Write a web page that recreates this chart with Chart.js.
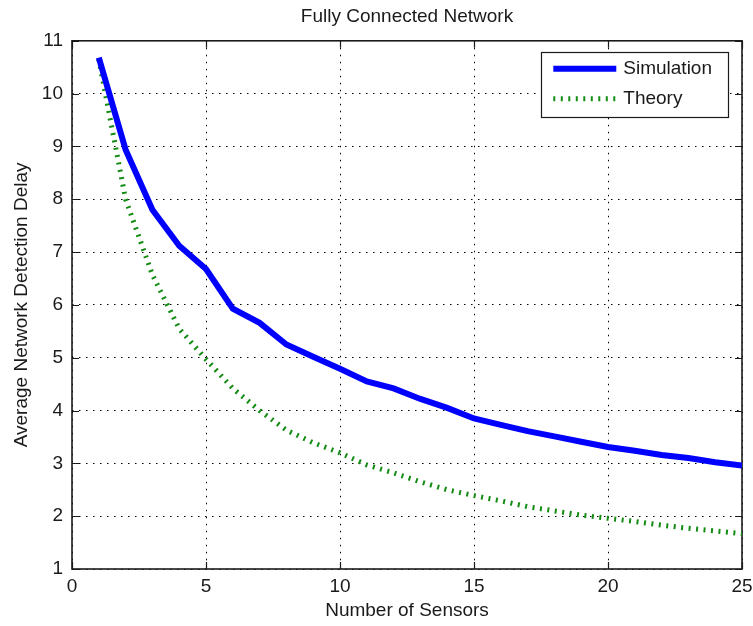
<!DOCTYPE html>
<html>
<head>
<meta charset="utf-8">
<title>Fully Connected Network</title>
<script src="https://cdn.jsdelivr.net/npm/chart.js@4/dist/chart.umd.min.js"></script>
<style>
  html, body { margin: 0; padding: 0; background: #ffffff; }
  #wrap { width: 753px; height: 626px; }
</style>
</head>
<body>
<div id="wrap"><canvas id="chart" width="753" height="626"></canvas></div>
<script>
// Number of sensors in the network
const sensors = [1, 2, 3, 4, 5, 6, 7, 8, 9, 10, 11, 12, 13, 14, 15, 16, 17, 18, 19, 20, 21, 22, 23, 24, 25];
// Average detection delay, simulated
const simulation = [10.68, 8.94, 7.80, 7.12, 6.68, 5.93, 5.66, 5.25, 5.02, 4.79, 4.55, 4.42, 4.22, 4.05, 3.85,
                    3.73, 3.61, 3.51, 3.41, 3.31, 3.24, 3.16, 3.10, 3.02, 2.96];
// Average detection delay, theoretical
const theory = [10.65, 8.00, 6.57, 5.55, 4.97, 4.42, 4.00, 3.63, 3.39, 3.20, 2.97, 2.82, 2.65, 2.50, 2.39,
                2.29, 2.18, 2.10, 2.02, 1.96, 1.90, 1.83, 1.77, 1.72, 1.67];
const xTicks = [0, 5, 10, 15, 20, 25];
const yTicks = [1, 2, 3, 4, 5, 6, 7, 8, 9, 10, 11];

const FONT = '"Liberation Sans", Arial, Helvetica, sans-serif';
const INK = '#1a1a1a';

const toPoints = (ys) => sensors.map((x, i) => ({ x: x, y: ys[i] }));

// Axes box with inward tick marks on all four sides
const frameTicks = {
  id: 'frameTicks',
  beforeDatasetsDraw(chart) {
    const { ctx, chartArea: a, scales: { x, y } } = chart;
    const len = 7;
    ctx.save();
    ctx.strokeStyle = INK;
    ctx.lineWidth = 1.2;
    ctx.beginPath();
    xTicks.forEach(v => {
      const px = Math.round(x.getPixelForValue(v)) + 0.5;
      ctx.moveTo(px, a.bottom); ctx.lineTo(px, a.bottom - len);
      ctx.moveTo(px, a.top); ctx.lineTo(px, a.top + len);
    });
    yTicks.forEach(v => {
      const py = Math.round(y.getPixelForValue(v)) + 0.5;
      ctx.moveTo(a.left, py); ctx.lineTo(a.left + len, py);
      ctx.moveTo(a.right, py); ctx.lineTo(a.right - len, py);
    });
    ctx.stroke();
    ctx.lineWidth = 1.6;
    ctx.strokeRect(a.left, a.top, a.right - a.left, a.bottom - a.top);
    ctx.restore();
  }
};

// Boxed legend in the upper right corner of the axes
const boxLegend = {
  id: 'boxLegend',
  afterDraw(chart) {
    const { ctx, chartArea: a } = chart;
    const sets = chart.data.datasets;
    ctx.save();
    ctx.font = '19px ' + FONT;
    const tw = Math.max(...sets.map(d => ctx.measureText(d.label).width));
    const padL = 12, sample = 63, gap = 7, padR = 16, rowH = 30;
    const w = padL + sample + gap + tw + padR;
    const h = 65;
    const right = a.right - 14;
    const left = right - w;
    const top = a.top + 11;
    ctx.fillStyle = '#ffffff';
    ctx.fillRect(left, top, w, h);
    ctx.strokeStyle = INK;
    ctx.lineWidth = 1.2;
    ctx.strokeRect(Math.round(left) + 0.5, Math.round(top) + 0.5, Math.round(w), Math.round(h));
    sets.forEach((d, i) => {
      const cy = top + 17 + i * rowH;
      ctx.beginPath();
      ctx.strokeStyle = d.borderColor;
      ctx.lineWidth = d.borderWidth;
      ctx.lineCap = 'butt';
      ctx.setLineDash(d.borderDash || []);
      ctx.moveTo(left + padL, cy);
      ctx.lineTo(left + padL + sample, cy);
      ctx.stroke();
      ctx.setLineDash([]);
      ctx.fillStyle = INK;
      ctx.textAlign = 'left';
      ctx.textBaseline = 'middle';
      ctx.fillText(d.label, left + padL + sample + gap, cy);
    });
    ctx.restore();
  }
};

new Chart(document.getElementById('chart'), {
  type: 'line',
  data: {
    datasets: [
      {
        label: 'Simulation',
        data: toPoints(simulation),
        borderColor: '#0000ff',
        borderWidth: 6,
        pointRadius: 0,
        tension: 0,
        fill: false
      },
      {
        label: 'Theory',
        data: toPoints(theory),
        borderColor: '#148c14',
        borderWidth: 5,
        borderDash: [2, 5.5],
        borderCapStyle: 'butt',
        pointRadius: 0,
        tension: 0,
        fill: false
      }
    ]
  },
  options: {
    responsive: false,
    animation: false,
    layout: { padding: { left: 0, right: 0, top: 0, bottom: 0 } },
    plugins: {
      legend: { display: false },
      tooltip: { enabled: false },
      title: {
        display: true,
        text: 'Fully Connected Network',
        fullSize: false,
        color: INK,
        font: { family: FONT, size: 19, weight: 'normal' },
        padding: { top: 5, bottom: 13 }
      }
    },
    scales: {
      x: {
        type: 'linear',
        min: 0,
        max: 25,
        afterFit(scale) {
          scale.height = 57;
          scale.paddingLeft = 0;
          scale.paddingRight = 11;
        },
        afterBuildTicks(scale) { scale.ticks = xTicks.map(v => ({ value: v })); },
        ticks: {
          color: INK,
          font: { family: FONT, size: 19 },
          padding: 6,
          maxRotation: 0,
          autoSkip: false
        },
        grid: { color: '#000000', lineWidth: 1, drawTicks: false },
        border: { display: false, dash: [1.5, 5.5] },
        title: {
          display: true,
          text: 'Number of Sensors',
          color: INK,
          font: { family: FONT, size: 19 },
          padding: { top: 0, bottom: 4 }
        }
      },
      y: {
        type: 'linear',
        min: 1,
        max: 11,
        afterFit(scale) { scale.width = 72; },
        afterBuildTicks(scale) { scale.ticks = yTicks.map(v => ({ value: v })); },
        ticks: {
          color: INK,
          font: { family: FONT, size: 19 },
          padding: 9,
          autoSkip: false
        },
        grid: { color: '#000000', lineWidth: 1, drawTicks: false },
        border: { display: false, dash: [1.5, 5.5] },
        title: {
          display: true,
          text: 'Average Network Detection Delay',
          color: INK,
          font: { family: FONT, size: 19 },
          padding: { top: 10, bottom: 0 }
        }
      }
    }
  },
  plugins: [frameTicks, boxLegend]
});
</script>
</body>
</html>
